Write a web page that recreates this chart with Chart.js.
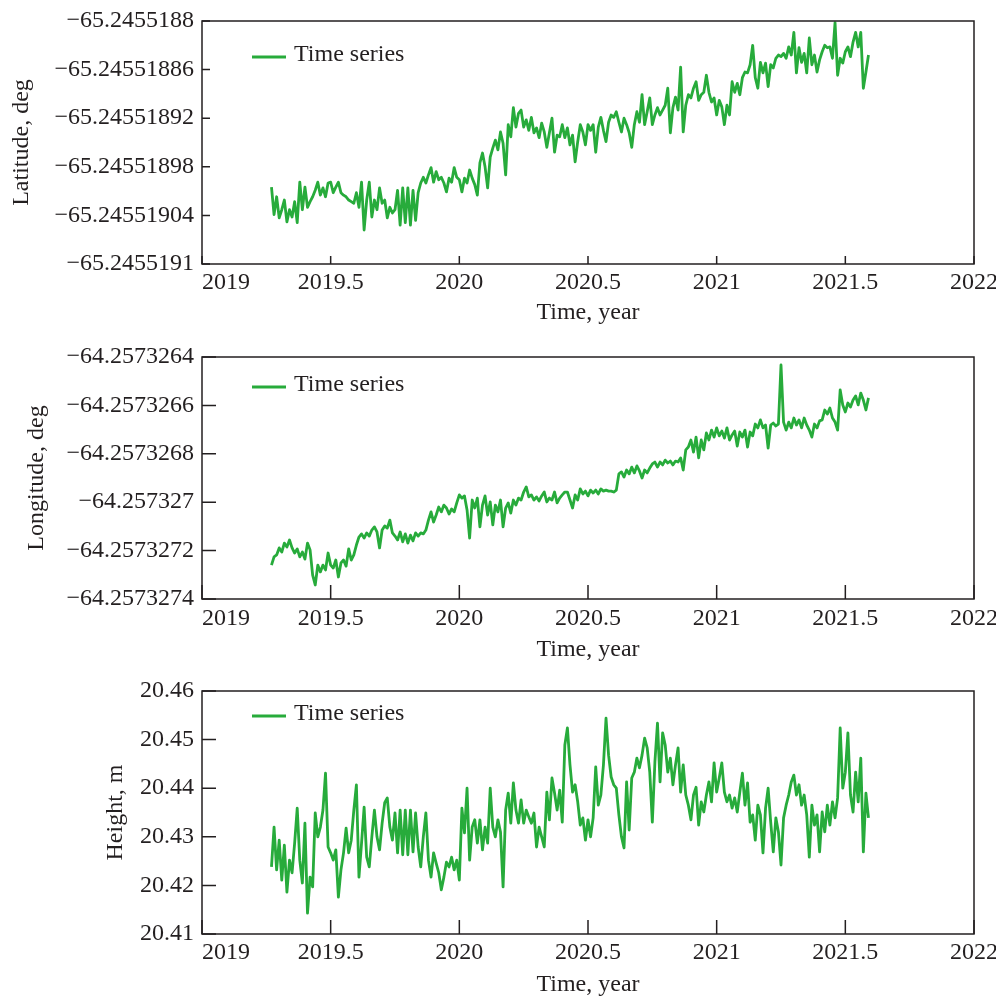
<!DOCTYPE html>
<html>
<head>
<meta charset="utf-8">
<title>Time series – latitude, longitude, height</title>
<script src="https://cdn.jsdelivr.net/npm/chart.js@4.4.1/dist/chart.umd.min.js"></script>
<style>
  html, body { margin: 0; padding: 0; background: #fff; }
  body { width: 996px; height: 996px; position: relative; overflow: hidden; }
  canvas { position: absolute; left: 0; }
</style>
</head>
<body>
<canvas id="latChart" width="996" height="330" style="top:0px"></canvas>
<canvas id="lonChart" width="996" height="335" style="top:330px"></canvas>
<canvas id="hgtChart" width="996" height="335" style="top:665px"></canvas>
<script>
/**
 * Three stacked station time series (latitude, longitude, height)
 * Values, roughly every 0.01 year.
 */

// --- time axis (year) ---
const years = [
  2019.27, 2019.28, 2019.29, 2019.30, 2019.31, 2019.32, 2019.33, 2019.34, 2019.35, 2019.36,
  2019.37, 2019.38, 2019.39, 2019.40, 2019.41, 2019.42, 2019.43, 2019.44, 2019.45, 2019.46,
  2019.47, 2019.48, 2019.49, 2019.50, 2019.51, 2019.52, 2019.53, 2019.54, 2019.55, 2019.56,
  2019.57, 2019.58, 2019.59, 2019.60, 2019.61, 2019.62, 2019.63, 2019.64, 2019.65, 2019.66,
  2019.67, 2019.68, 2019.69, 2019.70, 2019.71, 2019.72, 2019.73, 2019.74, 2019.75, 2019.76,
  2019.77, 2019.78, 2019.79, 2019.80, 2019.81, 2019.82, 2019.83, 2019.84, 2019.85, 2019.86,
  2019.87, 2019.88, 2019.89, 2019.90, 2019.91, 2019.92, 2019.93, 2019.94, 2019.95, 2019.96,
  2019.97, 2019.98, 2019.99, 2020.00, 2020.01, 2020.02, 2020.03, 2020.04, 2020.05, 2020.06,
  2020.07, 2020.08, 2020.09, 2020.10, 2020.11, 2020.12, 2020.13, 2020.14, 2020.15, 2020.16,
  2020.17, 2020.18, 2020.19, 2020.20, 2020.21, 2020.22, 2020.23, 2020.24, 2020.25, 2020.26,
  2020.27, 2020.28, 2020.29, 2020.30, 2020.31, 2020.32, 2020.33, 2020.34, 2020.35, 2020.36,
  2020.37, 2020.38, 2020.39, 2020.40, 2020.41, 2020.42, 2020.43, 2020.44, 2020.45, 2020.46,
  2020.47, 2020.48, 2020.49, 2020.50, 2020.51, 2020.52, 2020.53, 2020.54, 2020.55, 2020.56,
  2020.57, 2020.58, 2020.59, 2020.60, 2020.61, 2020.62, 2020.63, 2020.64, 2020.65, 2020.66,
  2020.67, 2020.68, 2020.69, 2020.70, 2020.71, 2020.72, 2020.73, 2020.74, 2020.75, 2020.76,
  2020.77, 2020.78, 2020.79, 2020.80, 2020.81, 2020.82, 2020.83, 2020.84, 2020.85, 2020.86,
  2020.87, 2020.88, 2020.89, 2020.90, 2020.91, 2020.92, 2020.93, 2020.94, 2020.95, 2020.96,
  2020.97, 2020.98, 2020.99, 2021.00, 2021.01, 2021.02, 2021.03, 2021.04, 2021.05, 2021.06,
  2021.07, 2021.08, 2021.09, 2021.10, 2021.11, 2021.12, 2021.13, 2021.14, 2021.15, 2021.16,
  2021.17, 2021.18, 2021.19, 2021.20, 2021.21, 2021.22, 2021.23, 2021.24, 2021.25, 2021.26,
  2021.27, 2021.28, 2021.29, 2021.30, 2021.31, 2021.32, 2021.33, 2021.34, 2021.35, 2021.36,
  2021.37, 2021.38, 2021.39, 2021.40, 2021.41, 2021.42, 2021.43, 2021.44, 2021.45, 2021.46,
  2021.47, 2021.48, 2021.49, 2021.50, 2021.51, 2021.52, 2021.53, 2021.54, 2021.55, 2021.56,
  2021.57, 2021.58, 2021.59
];

// --- latitude, deg ---
const latitude = [
  -65.245519005, -65.245519039, -65.245519017, -65.245519043, -65.245519033, -65.245519021, -65.245519048, -65.245519033, -65.245519042, -65.245519023,
  -65.245519049, -65.245518999, -65.245519033, -65.245519005, -65.245519030, -65.245519023, -65.245519017, -65.245519009, -65.245518999, -65.245519015,
  -65.245519006, -65.245519017, -65.245519000, -65.245518999, -65.245519012, -65.245519005, -65.245518999, -65.245519012, -65.245519015, -65.245519017,
  -65.245519021, -65.245519023, -65.245519025, -65.245519012, -65.245519030, -65.245518999, -65.245519058, -65.245519021, -65.245518999, -65.245519042,
  -65.245519021, -65.245519033, -65.245519006, -65.245519025, -65.245519021, -65.245519043, -65.245519030, -65.245519037, -65.245519033, -65.245519009,
  -65.245519052, -65.245519006, -65.245519049, -65.245519006, -65.245519052, -65.245519009, -65.245519046, -65.245519012, -65.245519000, -65.245518993,
  -65.245519000, -65.245518990, -65.245518981, -65.245518999, -65.245518986, -65.245518996, -65.245518993, -65.245519000, -65.245519011, -65.245518994,
  -65.245518999, -65.245518981, -65.245518993, -65.245518996, -65.245519011, -65.245518994, -65.245519000, -65.245518984, -65.245518994, -65.245519002,
  -65.245519015, -65.245518975, -65.245518963, -65.245518980, -65.245519006, -65.245518968, -65.245518957, -65.245518947, -65.245518959, -65.245518937,
  -65.245518951, -65.245518990, -65.245518928, -65.245518943, -65.245518907, -65.245518931, -65.245518914, -65.245518910, -65.245518931, -65.245518922,
  -65.245518935, -65.245518919, -65.245518938, -65.245518932, -65.245518944, -65.245518926, -65.245518937, -65.245518956, -65.245518938, -65.245518920,
  -65.245518962, -65.245518941, -65.245518943, -65.245518928, -65.245518944, -65.245518932, -65.245518953, -65.245518941, -65.245518974, -65.245518949,
  -65.245518928, -65.245518937, -65.245518953, -65.245518928, -65.245518935, -65.245518928, -65.245518962, -65.245518931, -65.245518919, -65.245518935,
  -65.245518949, -65.245518925, -65.245518916, -65.245518919, -65.245518912, -65.245518925, -65.245518937, -65.245518920, -65.245518928, -65.245518938,
  -65.245518956, -65.245518928, -65.245518912, -65.245518925, -65.245518891, -65.245518928, -65.245518912, -65.245518895, -65.245518928, -65.245518916,
  -65.245518907, -65.245518916, -65.245518910, -65.245518904, -65.245518883, -65.245518938, -65.245518907, -65.245518894, -65.245518910, -65.245518857,
  -65.245518937, -65.245518904, -65.245518891, -65.245518895, -65.245518883, -65.245518875, -65.245518898, -65.245518891, -65.245518888, -65.245518867,
  -65.245518888, -65.245518900, -65.245518895, -65.245518916, -65.245518898, -65.245518906, -65.245518928, -65.245518904, -65.245518916, -65.245518875,
  -65.245518888, -65.245518877, -65.245518891, -65.245518870, -65.245518863, -65.245518864, -65.245518854, -65.245518830, -65.245518870, -65.245518883,
  -65.245518851, -65.245518864, -65.245518852, -65.245518881, -65.245518854, -65.245518858, -65.245518846, -65.245518842, -65.245518844, -65.245518840,
  -65.245518846, -65.245518832, -65.245518842, -65.245518814, -65.245518864, -65.245518833, -65.245518851, -65.245518840, -65.245518864, -65.245518821,
  -65.245518854, -65.245518842, -65.245518863, -65.245518848, -65.245518838, -65.245518830, -65.245518833, -65.245518832, -65.245518846, -65.245518802,
  -65.245518867, -65.245518846, -65.245518852, -65.245518838, -65.245518832, -65.245518844, -65.245518826, -65.245518814, -65.245518832, -65.245518814,
  -65.245518883, -65.245518863, -65.245518842
];

// --- longitude, deg ---
const longitude = [
  -64.257327260, -64.257327226, -64.257327218, -64.257327189, -64.257327206, -64.257327169, -64.257327185, -64.257327156, -64.257327189, -64.257327210,
  -64.257327193, -64.257327226, -64.257327206, -64.257327235, -64.257327169, -64.257327197, -64.257327301, -64.257327342, -64.257327260, -64.257327288,
  -64.257327260, -64.257327280, -64.257327210, -64.257327260, -64.257327272, -64.257327239, -64.257327309, -64.257327251, -64.257327239, -64.257327264,
  -64.257327193, -64.257327239, -64.257327218, -64.257327177, -64.257327144, -64.257327131, -64.257327148, -64.257327127, -64.257327140, -64.257327115,
  -64.257327102, -64.257327123, -64.257327189, -64.257327115, -64.257327098, -64.257327107, -64.257327074, -64.257327127, -64.257327140, -64.257327156,
  -64.257327123, -64.257327164, -64.257327131, -64.257327169, -64.257327136, -64.257327160, -64.257327127, -64.257327140, -64.257327127, -64.257327131,
  -64.257327115, -64.257327074, -64.257327040, -64.257327082, -64.257327053, -64.257327020, -64.257327040, -64.257327012, -64.257327024, -64.257327049,
  -64.257327028, -64.257327040, -64.257327003, -64.257326970, -64.257326983, -64.257326974, -64.257327032, -64.257327148, -64.257326991, -64.257327024,
  -64.257326983, -64.257327102, -64.257327012, -64.257326974, -64.257327053, -64.257326999, -64.257327094, -64.257327012, -64.257327040, -64.257326991,
  -64.257327102, -64.257327024, -64.257327003, -64.257327045, -64.257326991, -64.257327012, -64.257326983, -64.257326991, -64.257326958, -64.257326937,
  -64.257326978, -64.257326970, -64.257326991, -64.257326978, -64.257326995, -64.257326974, -64.257326958, -64.257326999, -64.257326983, -64.257326991,
  -64.257326958, -64.257327003, -64.257326983, -64.257326970, -64.257326958, -64.257326958, -64.257326991, -64.257327024, -64.257326970, -64.257326991,
  -64.257326945, -64.257326966, -64.257326954, -64.257326974, -64.257326950, -64.257326962, -64.257326950, -64.257326966, -64.257326945, -64.257326954,
  -64.257326950, -64.257326954, -64.257326954, -64.257326958, -64.257326950, -64.257326883, -64.257326875, -64.257326896, -64.257326867, -64.257326883,
  -64.257326855, -64.257326879, -64.257326850, -64.257326871, -64.257326900, -64.257326867, -64.257326879, -64.257326859, -64.257326842, -64.257326834,
  -64.257326855, -64.257326834, -64.257326846, -64.257326826, -64.257326838, -64.257326830, -64.257326846, -64.257326830, -64.257326834, -64.257326817,
  -64.257326867, -64.257326784, -64.257326772, -64.257326743, -64.257326793, -64.257326731, -64.257326817, -64.257326743, -64.257326784, -64.257326714,
  -64.257326743, -64.257326702, -64.257326731, -64.257326693, -64.257326726, -64.257326706, -64.257326735, -64.257326693, -64.257326743, -64.257326722,
  -64.257326706, -64.257326768, -64.257326710, -64.257326731, -64.257326702, -64.257326772, -64.257326710, -64.257326726, -64.257326677, -64.257326693,
  -64.257326660, -64.257326693, -64.257326681, -64.257326776, -64.257326681, -64.257326673, -64.257326685, -64.257326677, -64.257326433, -64.257326669,
  -64.257326702, -64.257326669, -64.257326693, -64.257326652, -64.257326681, -64.257326660, -64.257326693, -64.257326652, -64.257326681, -64.257326702,
  -64.257326731, -64.257326677, -64.257326693, -64.257326664, -64.257326660, -64.257326619, -64.257326636, -64.257326611, -64.257326652, -64.257326669,
  -64.257326702, -64.257326536, -64.257326598, -64.257326627, -64.257326590, -64.257326607, -64.257326578, -64.257326561, -64.257326598, -64.257326549,
  -64.257326578, -64.257326619, -64.257326569
];

// --- height, m ---
const height = [
  20.4238, 20.4320, 20.4232, 20.4293, 20.4211, 20.4283, 20.4186, 20.4252, 20.4226, 20.4287,
  20.4359, 20.4252, 20.4205, 20.4328, 20.4143, 20.4217, 20.4197, 20.4349, 20.4300, 20.4320,
  20.4355, 20.4431, 20.4279, 20.4267, 20.4252, 20.4273, 20.4176, 20.4232, 20.4267, 20.4318,
  20.4267, 20.4293, 20.4355, 20.4407, 20.4217, 20.4287, 20.4361, 20.4258, 20.4238, 20.4300,
  20.4355, 20.4300, 20.4273, 20.4328, 20.4370, 20.4380, 20.4320, 20.4293, 20.4349, 20.4267,
  20.4355, 20.4263, 20.4355, 20.4263, 20.4355, 20.4269, 20.4349, 20.4279, 20.4238, 20.4300,
  20.4349, 20.4252, 20.4217, 20.4267, 20.4246, 20.4226, 20.4191, 20.4217, 20.4248, 20.4238,
  20.4258, 20.4232, 20.4252, 20.4211, 20.4359, 20.4308, 20.4400, 20.4252, 20.4320, 20.4335,
  20.4287, 20.4335, 20.4273, 20.4320, 20.4287, 20.4400, 20.4320, 20.4300, 20.4335, 20.4310,
  20.4197, 20.4355, 20.4390, 20.4328, 20.4411, 20.4355, 20.4328, 20.4376, 20.4328, 20.4355,
  20.4341, 20.4328, 20.4349, 20.4279, 20.4320, 20.4300, 20.4279, 20.4392, 20.4335, 20.4421,
  20.4390, 20.4355, 20.4396, 20.4330, 20.4489, 20.4524, 20.4448, 20.4392, 20.4407, 20.4372,
  20.4324, 20.4339, 20.4293, 20.4335, 20.4300, 20.4339, 20.4444, 20.4365, 20.4386, 20.4448,
  20.4544, 20.4468, 20.4423, 20.4407, 20.4400, 20.4345, 20.4300, 20.4277, 20.4413, 20.4314,
  20.4421, 20.4433, 20.4462, 20.4442, 20.4468, 20.4503, 20.4483, 20.4433, 20.4330, 20.4454,
  20.4534, 20.4413, 20.4514, 20.4489, 20.4433, 20.4462, 20.4407, 20.4448, 20.4483, 20.4392,
  20.4448, 20.4386, 20.4365, 20.4335, 20.4386, 20.4402, 20.4324, 20.4372, 20.4351, 20.4386,
  20.4413, 20.4372, 20.4452, 20.4392, 20.4421, 20.4452, 20.4392, 20.4372, 20.4386, 20.4359,
  20.4380, 20.4351, 20.4392, 20.4431, 20.4365, 20.4411, 20.4330, 20.4345, 20.4293, 20.4365,
  20.4345, 20.4267, 20.4359, 20.4400, 20.4330, 20.4269, 20.4339, 20.4310, 20.4242, 20.4339,
  20.4365, 20.4386, 20.4413, 20.4427, 20.4386, 20.4407, 20.4365, 20.4386, 20.4345, 20.4258,
  20.4365, 20.4324, 20.4345, 20.4269, 20.4351, 20.4310, 20.4365, 20.4324, 20.4372, 20.4339,
  20.4380, 20.4524, 20.4400, 20.4433, 20.4514, 20.4386, 20.4351, 20.4433, 20.4372, 20.4462,
  20.4269, 20.4390, 20.4339
];

// --- tick values and labels ---
const xTicks = [2019, 2019.5, 2020, 2020.5, 2021, 2021.5, 2022];
// first label padded with figure spaces so it starts at the axis, like the original
const xTickLabels = ['\u2007\u2007\u2007\u20072019', '2019.5', '2020', '2020.5', '2021', '2021.5', '2022'];

const latTicks = [-65.2455191, -65.24551904, -65.24551898, -65.24551892, -65.24551886, -65.2455188];
const latTickLabels = ['\u221265.2455191', '\u221265.24551904', '\u221265.24551898', '\u221265.24551892', '\u221265.24551886', '\u221265.2455188'];

const lonTicks = [-64.2573274, -64.2573272, -64.257327, -64.2573268, -64.2573266, -64.2573264];
const lonTickLabels = ['\u221264.2573274', '\u221264.2573272', '\u221264.257327', '\u221264.2573268', '\u221264.2573266', '\u221264.2573264'];

const hgtTicks = [20.41, 20.42, 20.43, 20.44, 20.45, 20.46];
const hgtTickLabels = ['20.41', '20.42', '20.43', '20.44', '20.45', '20.46'];

const LINE_GREEN = '#27ab3b';
const INK = '#231f20';
const FONT = '"Liberation Serif", "Times New Roman", serif';

Chart.defaults.font.family = FONT;
Chart.defaults.font.size = 24;
Chart.defaults.color = INK;

// frame round the plot area + short inward tick marks
const frameTicks = {
    id: 'frameTicks',
    afterDatasetsDraw(chart, args, opts) {
        const { ctx, chartArea: a, scales: { x, y } } = chart;
        ctx.save();
        ctx.strokeStyle = INK;
        ctx.lineWidth = 1.5;
        ctx.strokeRect(a.left, a.top, a.right - a.left, a.bottom - a.top);
        ctx.beginPath();
        x.ticks.forEach(t => {
            const px = x.getPixelForValue(t.value);
            ctx.moveTo(px, a.bottom);
            ctx.lineTo(px, a.bottom - opts.length);
        });
        y.ticks.forEach(t => {
            const py = y.getPixelForValue(t.value);
            ctx.moveTo(a.left, py);
            ctx.lineTo(a.left + opts.length, py);
        });
        ctx.stroke();
        ctx.restore();
    }
};

// legend drawn inside the plot, top-left
const innerLegend = {
    id: 'innerLegend',
    afterDraw(chart, args, opts) {
        const { ctx, chartArea: a } = chart;
        const ds = chart.data.datasets[0];
        const y = a.top + opts.offsetY;
        ctx.save();
        ctx.strokeStyle = ds.borderColor;
        ctx.lineWidth = 3;
        ctx.beginPath();
        ctx.moveTo(a.left + 50, y);
        ctx.lineTo(a.left + 84, y);
        ctx.stroke();
        ctx.fillStyle = INK;
        ctx.font = '24px ' + FONT;
        ctx.textBaseline = 'middle';
        ctx.textAlign = 'left';
        ctx.fillText(ds.label, a.left + 92, y - 2);
        ctx.restore();
    }
};

function makePanel(id, p) {
    const canvas = document.getElementById(id);
    const plotLeft = 202;
    return new Chart(canvas.getContext('2d'), {
        type: 'line',
        data: {
            datasets: [{
                label: 'Time series',
                data: years.map((t, i) => ({ x: t, y: p.values[i] })),
                borderColor: LINE_GREEN,
                borderWidth: 2.8,
                borderJoinStyle: 'round',
                pointRadius: 0,
                tension: 0,
                fill: false
            }]
        },
        options: {
            responsive: false,
            animation: false,
            layout: { padding: { left: p.padLeft, top: p.padTop, right: 22, bottom: 0 } },
            plugins: {
                legend: { display: false },
                tooltip: { enabled: false },
                frameTicks: { length: p.tickLen },
                innerLegend: { offsetY: p.legendY }
            },
            scales: {
                x: {
                    type: 'linear',
                    min: 2019,
                    max: 2022,
                    grid: { display: false, drawTicks: false },
                    border: { display: false },
                    afterBuildTicks: s => { s.ticks = xTicks.map(v => ({ value: v })); },
                    afterFit: s => {
                        s.height = p.xAxisHeight;
                        s.paddingLeft = 0;
                        s.paddingRight = 0;
                    },
                    ticks: {
                        padding: p.xTickPad,
                        maxRotation: 0,
                        autoSkip: false,
                        callback: (v, i) => xTickLabels[i]
                    },
                    title: { display: true, text: 'Time, year', padding: { top: 0, bottom: p.xTitlePad } }
                },
                y: {
                    type: 'linear',
                    min: p.ticks[0],
                    max: p.ticks[p.ticks.length - 1],
                    grid: { display: false, drawTicks: false },
                    border: { display: false },
                    afterBuildTicks: s => { s.ticks = p.ticks.map(v => ({ value: v })); },
                    afterFit: s => {
                        s.width = plotLeft - p.padLeft;
                        s.paddingTop = 0;
                        s.paddingBottom = 0;
                    },
                    ticks: {
                        padding: 8,
                        autoSkip: false,
                        callback: (v, i) => p.labels[i]
                    },
                    title: { display: true, text: p.title, padding: { top: 0, bottom: 0 } }
                }
            }
        },
        plugins: [frameTicks, innerLegend]
    });
}

makePanel('latChart', {
    values: latitude, ticks: latTicks, labels: latTickLabels, title: 'Latitude, deg',
    padLeft: 7, padTop: 21, xAxisHeight: 66, xTickPad: 4, xTitlePad: 2.6, tickLen: 8, legendY: 36
});
makePanel('lonChart', {
    values: longitude, ticks: lonTicks, labels: lonTickLabels, title: 'Longitude, deg',
    padLeft: 22, padTop: 27, xAxisHeight: 66, xTickPad: 5.5, xTitlePad: 0.6, tickLen: 14, legendY: 30
});
makePanel('hgtChart', {
    values: height, ticks: hgtTicks, labels: hgtTickLabels, title: 'Height, m',
    padLeft: 101, padTop: 26, xAxisHeight: 66, xTickPad: 4, xTitlePad: 0.6, tickLen: 14, legendY: 25
});
</script>
</body>
</html>
